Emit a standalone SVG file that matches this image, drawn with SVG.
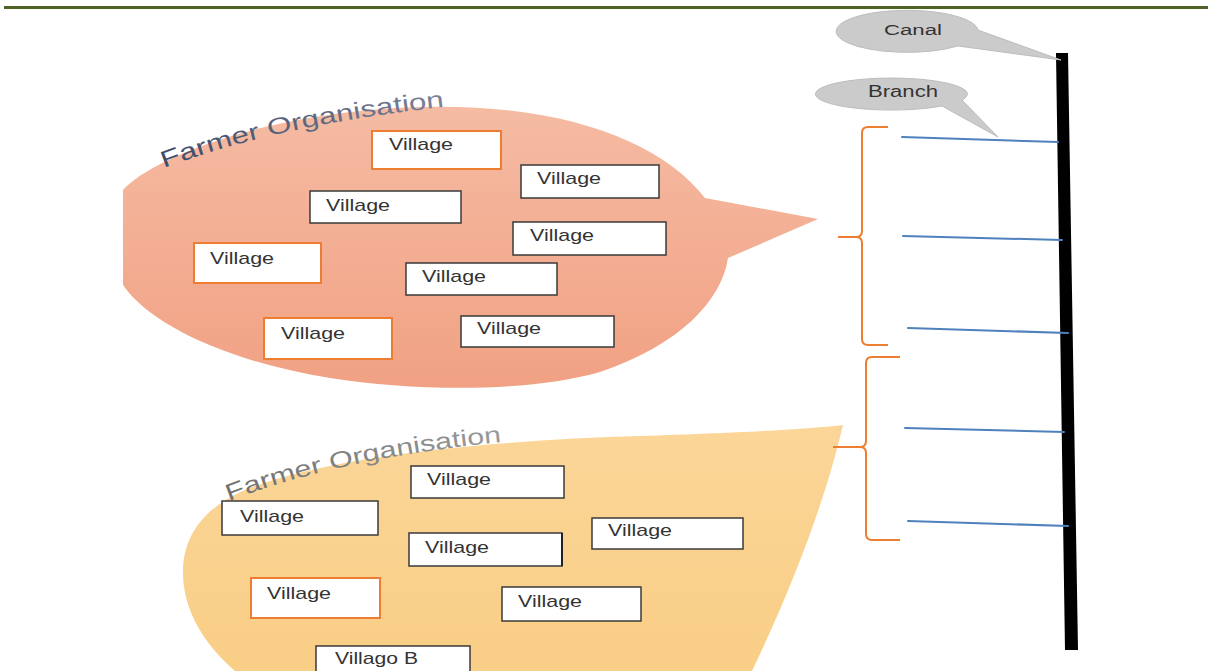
<svg xmlns="http://www.w3.org/2000/svg" width="1208" height="671" viewBox="0 0 1208 671">
  <style>
    .box { fill: #ffffff; stroke: #3a3a3a; stroke-width: 1.5; }
    .box-o { fill: #ffffff; stroke: #ed7d31; stroke-width: 2; }
    .lbl { font-family: "Liberation Sans", Arial, sans-serif; font-size: 17px; fill: #333333; }
    .fo { font-family: "Liberation Sans", Arial, sans-serif; font-size: 23px; }
    .brace { fill: none; stroke: #ed7d31; stroke-width: 2; stroke-linejoin: round; }
    .branch { stroke: #4f81bd; stroke-width: 2; stroke-linecap: round; }
    .callout { fill: #cbcbcb; stroke: #bdbdbd; stroke-width: 1; }
    .ctext { font-family: "Liberation Sans", Arial, sans-serif; fill: #333333; }
  </style>
  <defs>
    <linearGradient id="salmon" x1="0" y1="0" x2="0" y2="1">
      <stop offset="0" stop-color="#f5bba3"/>
      <stop offset="1" stop-color="#f1a183"/>
    </linearGradient>
    <linearGradient id="sand" x1="0" y1="0" x2="0" y2="1">
      <stop offset="0" stop-color="#fbd698"/>
      <stop offset="1" stop-color="#f9ce86"/>
    </linearGradient>
    <linearGradient id="foText1" x1="0" y1="0" x2="1" y2="0">
      <stop offset="0" stop-color="#3d4a68"/>
      <stop offset="1" stop-color="#7b8196"/>
    </linearGradient>
    <linearGradient id="foText2" x1="0" y1="0" x2="1" y2="0">
      <stop offset="0" stop-color="#6f6f6f"/>
      <stop offset="1" stop-color="#9a9a9a"/>
    </linearGradient>
    <path id="arc1" d="M 164,168 Q 280,124 452,106"/>
    <path id="arc2" d="M 229,501 Q 340,458 502,442"/>
  </defs>

  <!-- page rule -->
  <rect x="4" y="6" width="1204" height="3" fill="#4f6228"/>

  <!-- first farmer organisation callout -->
  <g id="fo1">
    <path d="M 123,190 C 150,160 260,112 420,107 C 560,103 660,140 705,198 L 818,219 L 728,258 C 722,300 680,345 600,372 C 530,392 420,392 330,378 C 230,362 150,325 123,285 Z" fill="url(#salmon)"/>
    <text class="fo" fill="url(#foText1)"><textPath href="#arc1" textLength="288" lengthAdjust="spacingAndGlyphs">Farmer Organisation</textPath></text>
  </g>
  <g id="v1a"><rect class="box-o" x="372" y="131" width="129" height="38"/><text class="lbl" x="389" y="150" textLength="64" lengthAdjust="spacingAndGlyphs">Village</text></g>
  <g id="v1b"><rect class="box" x="521" y="165" width="138" height="33"/><text class="lbl" x="537" y="184" textLength="64" lengthAdjust="spacingAndGlyphs">Village</text></g>
  <g id="v1c"><rect class="box" x="310" y="191" width="151" height="32"/><text class="lbl" x="326" y="211" textLength="64" lengthAdjust="spacingAndGlyphs">Village</text></g>
  <g id="v1d"><rect class="box" x="513" y="222" width="153" height="33"/><text class="lbl" x="530" y="241" textLength="64" lengthAdjust="spacingAndGlyphs">Village</text></g>
  <g id="v1e"><rect class="box-o" x="194" y="243" width="127" height="40"/><text class="lbl" x="210" y="264" textLength="64" lengthAdjust="spacingAndGlyphs">Village</text></g>
  <g id="v1f"><rect class="box" x="406" y="263" width="151" height="32"/><text class="lbl" x="422" y="282" textLength="64" lengthAdjust="spacingAndGlyphs">Village</text></g>
  <g id="v1g"><rect class="box-o" x="264" y="318" width="128" height="41"/><text class="lbl" x="281" y="339" textLength="64" lengthAdjust="spacingAndGlyphs">Village</text></g>
  <g id="v1h"><rect class="box" x="461" y="316" width="153" height="31"/><text class="lbl" x="477" y="334" textLength="64" lengthAdjust="spacingAndGlyphs">Village</text></g>

  <!-- second farmer organisation callout -->
  <g id="fo2">
    <path d="M 843,425 C 830,480 805,560 752,671 L 235,671 C 205,645 182,610 183,570 C 184,530 210,505 245,490 C 330,455 500,440 640,436 C 730,433 800,430 843,425 Z" fill="url(#sand)"/>
    <text class="fo" fill="url(#foText2)"><textPath href="#arc2" textLength="280" lengthAdjust="spacingAndGlyphs">Farmer Organisation</textPath></text>
  </g>
  <g id="v2a"><rect class="box" x="411" y="466" width="153" height="32"/><text class="lbl" x="427" y="485" textLength="64" lengthAdjust="spacingAndGlyphs">Village</text></g>
  <g id="v2b"><rect class="box" x="222" y="501" width="156" height="34"/><text class="lbl" x="240" y="522" textLength="64" lengthAdjust="spacingAndGlyphs">Village</text></g>
  <g id="v2c"><rect class="box" x="592" y="518" width="151" height="31"/><text class="lbl" x="608" y="536" textLength="64" lengthAdjust="spacingAndGlyphs">Village</text></g>
  <g id="v2d"><rect class="box" x="409" y="533" width="153" height="33"/><line x1="562" y1="533" x2="562" y2="566" stroke="#222" stroke-width="2"/><text class="lbl" x="425" y="553" textLength="64" lengthAdjust="spacingAndGlyphs">Village</text></g>
  <g id="v2e"><rect class="box-o" x="251" y="578" width="129" height="40"/><text class="lbl" x="267" y="599" textLength="64" lengthAdjust="spacingAndGlyphs">Village</text></g>
  <g id="v2f"><rect class="box" x="502" y="587" width="139" height="34"/><text class="lbl" x="518" y="607" textLength="64" lengthAdjust="spacingAndGlyphs">Village</text></g>
  <g id="v2g"><rect class="box" x="316" y="646" width="154" height="30"/><text class="lbl" x="335" y="664" textLength="83" lengthAdjust="spacingAndGlyphs">Villago B</text></g>

  <!-- canal and labels -->
  <g id="canal">
    <polygon points="1056,53 1068,53 1078,650 1065,650" fill="#000000"/>
  </g>
  <g id="canal-label">
    <path class="callout" d="M 978,30 L 1061,60 L 958,46 A 71,21 0 1 1 978,30 Z"/>
    <text class="ctext" x="884" y="35" font-size="14" fill="#444" textLength="58" lengthAdjust="spacingAndGlyphs">Canal</text>
  </g>
  <g id="branch-label">
    <path class="callout" d="M 962,100 L 998,137 L 942,106 A 76,16 0 1 1 962,100 Z"/>
    <text class="ctext" x="868" y="97" font-size="16" textLength="70" lengthAdjust="spacingAndGlyphs">Branch</text>
  </g>

  <!-- branches and grouping braces -->
  <g id="connectors">
    <line class="branch" x1="902" y1="137" x2="1058" y2="142"/>
    <line class="branch" x1="903" y1="236" x2="1062" y2="240"/>
    <line class="branch" x1="908" y1="328" x2="1068" y2="333"/>
    <line class="branch" x1="905" y1="428" x2="1064" y2="432"/>
    <line class="branch" x1="908" y1="521" x2="1068" y2="526"/>
    <path class="brace" d="M 888,127 L 868,127 Q 862,127 862,133 L 862,231 Q 862,237 856,237 L 838,237 M 856,237 Q 862,237 862,243 L 862,339 Q 862,345 868,345 L 888,345"/>
    <path class="brace" d="M 900,357 L 872,357 Q 866,357 866,363 L 866,441 Q 866,447 860,447 L 833,447 M 860,447 Q 866,447 866,453 L 866,534 Q 866,540 872,540 L 900,540"/>
  </g>
</svg>
